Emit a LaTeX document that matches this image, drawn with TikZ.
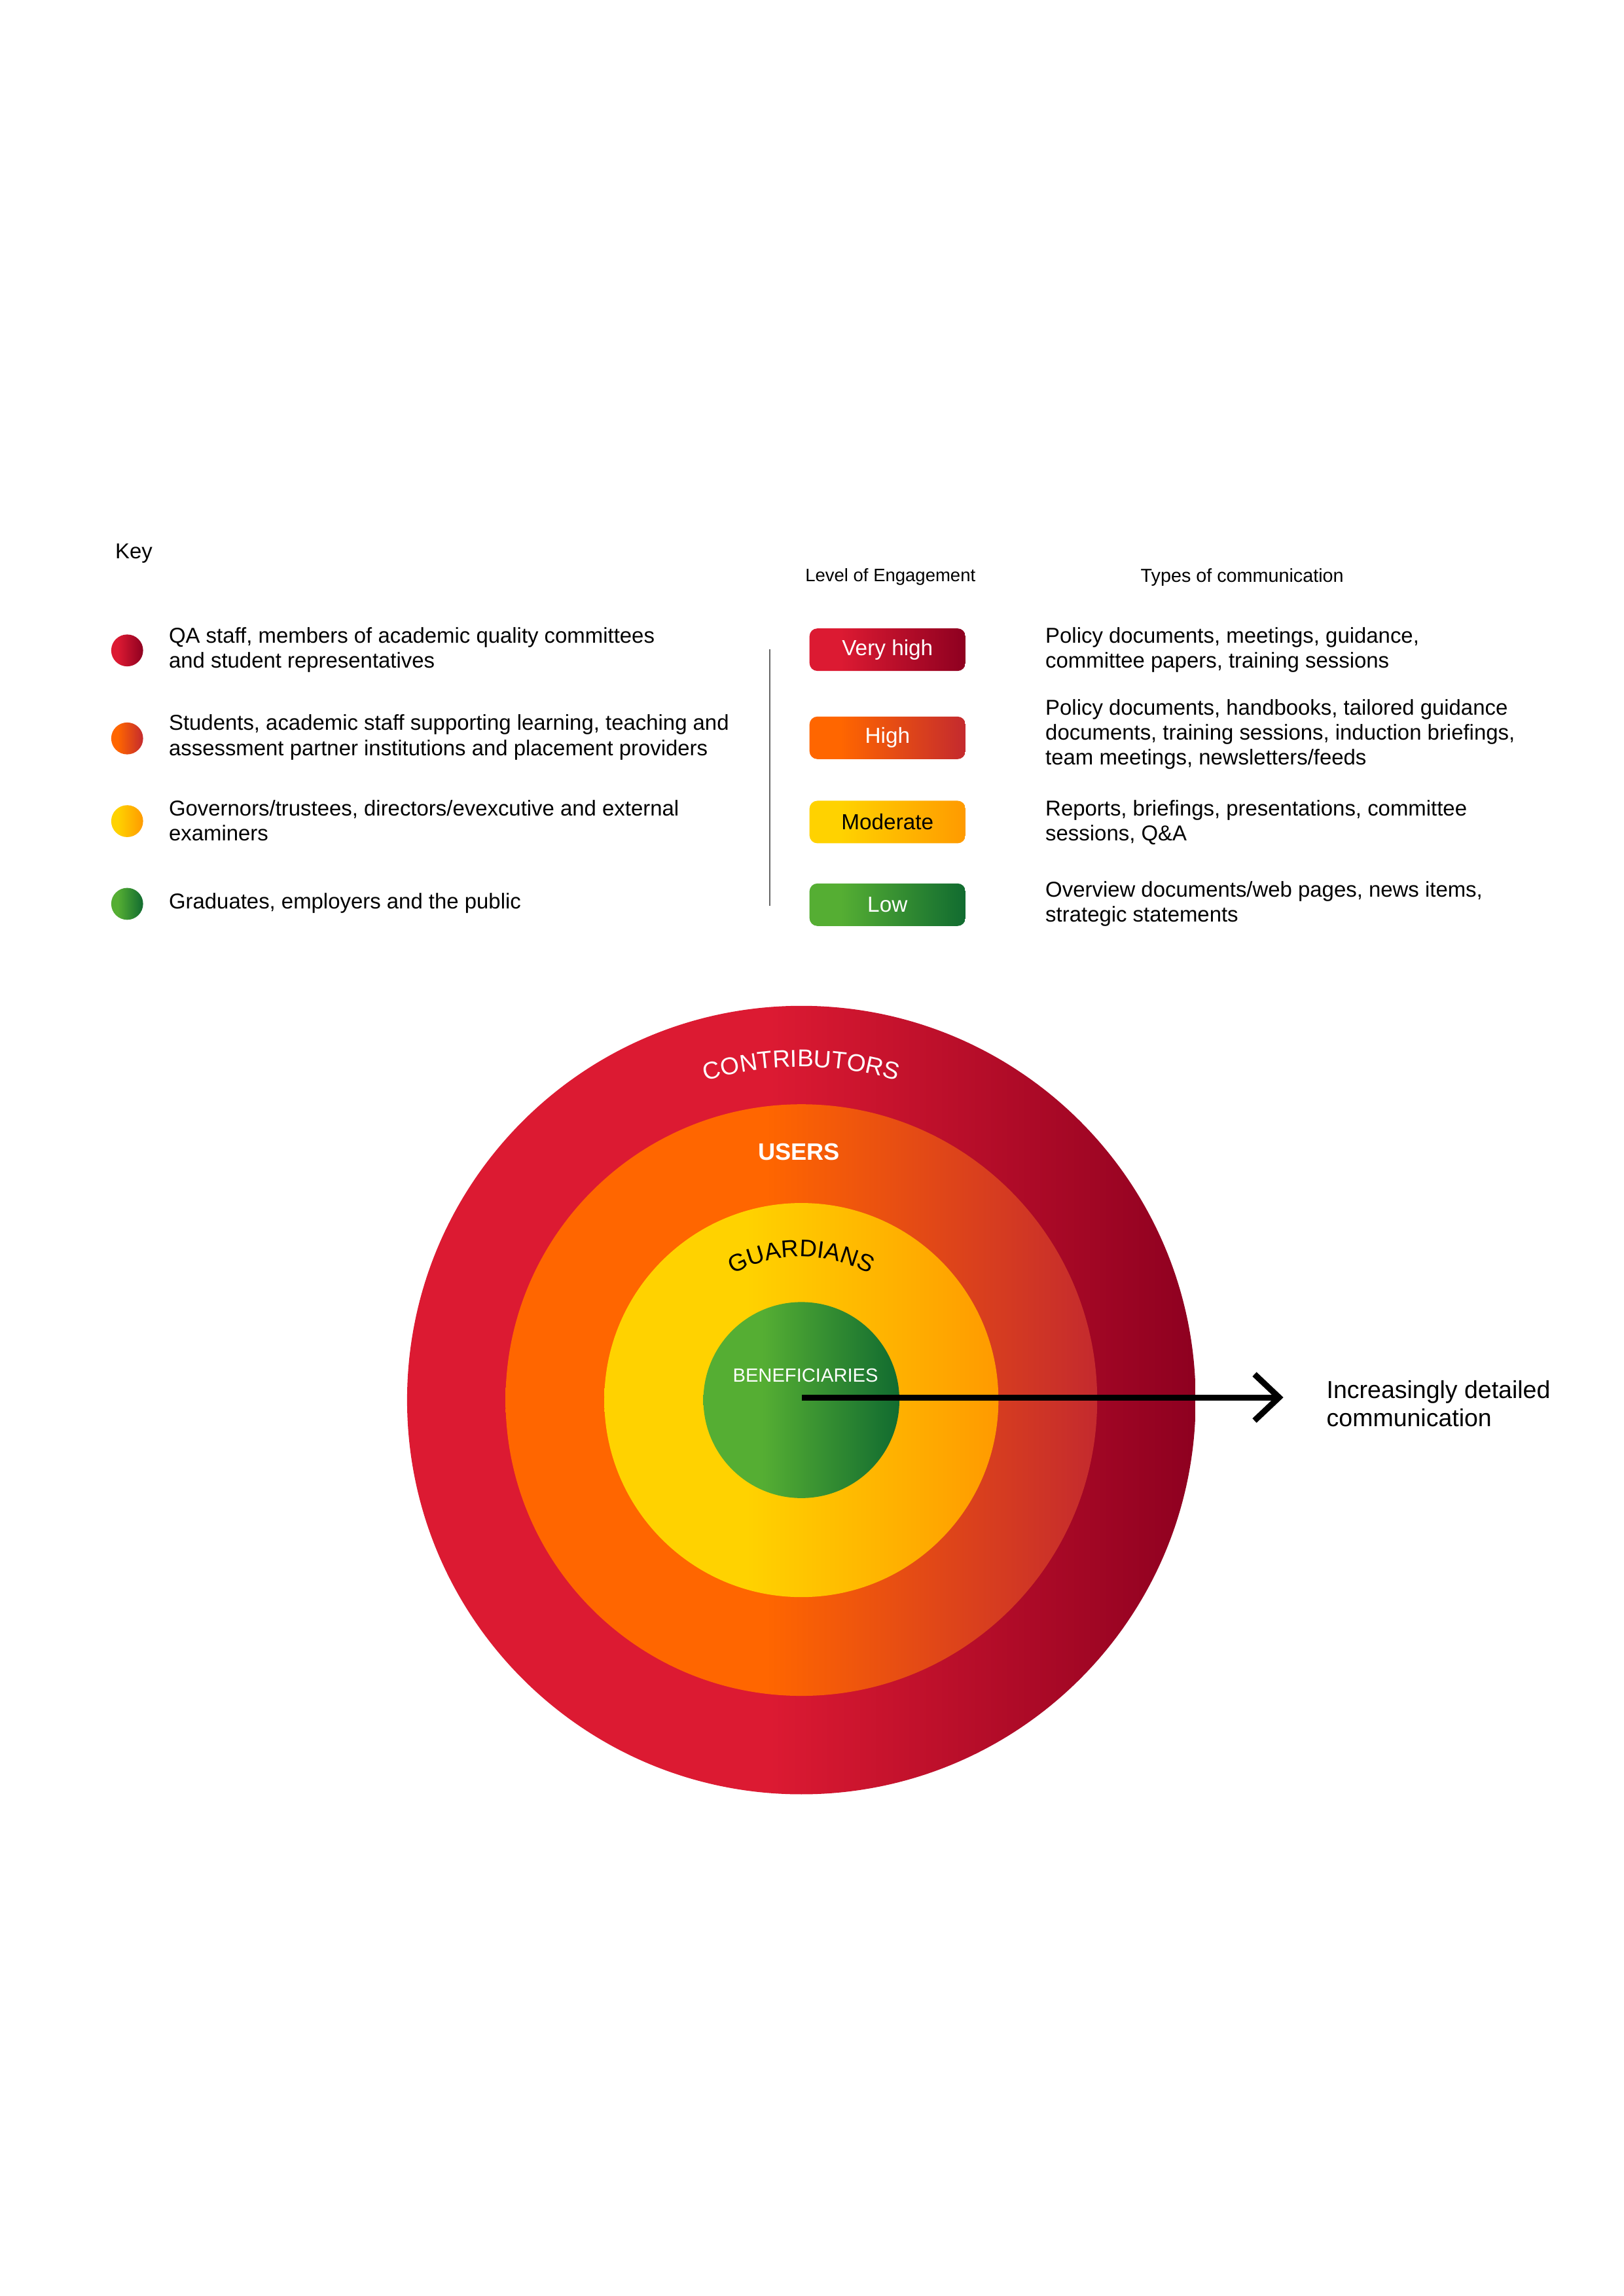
\documentclass[tikz,border=0pt]{standalone}
\usepackage{fontspec}
\setmainfont{Liberation Sans}
\usetikzlibrary{arrows.meta,decorations.text}
\definecolor{redA}{HTML}{DC1A32}
\definecolor{redB}{HTML}{8E0020}
\definecolor{orA}{HTML}{FF6600}
\definecolor{orB}{HTML}{C42A2E}
\definecolor{yeA}{HTML}{FFD200}
\definecolor{yeB}{HTML}{FF9A00}
\definecolor{grA}{HTML}{55AE33}
\definecolor{grB}{HTML}{116B30}
\definecolor{lineGray}{HTML}{666666}
\pgfdeclarehorizontalshading{redsh}{100bp}{color(0bp)=(redA); color(48bp)=(redA); color(75bp)=(redB); color(100bp)=(redB)}
\pgfdeclarehorizontalshading{orsh}{100bp}{color(0bp)=(orA); color(47bp)=(orA); color(75bp)=(orB); color(100bp)=(orB)}
\pgfdeclarehorizontalshading{yesh}{100bp}{color(0bp)=(yeA); color(43bp)=(yeA); color(75bp)=(yeB); color(100bp)=(yeB)}
\pgfdeclarehorizontalshading{grsh}{100bp}{color(0bp)=(grA); color(40bp)=(grA); color(75bp)=(grB); color(100bp)=(grB)}
\pgfdeclarehorizontalshading{reddot}{100bp}{color(0bp)=(redA); color(35bp)=(redA); color(75bp)=(redB); color(100bp)=(redB)}
\pgfdeclarehorizontalshading{ordot}{100bp}{color(0bp)=(orA); color(35bp)=(orA); color(75bp)=(orB); color(100bp)=(orB)}
\pgfdeclarehorizontalshading{yedot}{100bp}{color(0bp)=(yeA); color(35bp)=(yeA); color(75bp)=(yeB); color(100bp)=(yeB)}
\pgfdeclarehorizontalshading{grdot}{100bp}{color(0bp)=(grA); color(35bp)=(grA); color(75bp)=(grB); color(100bp)=(grB)}
\begin{document}
\begin{tikzpicture}[x=0.5397pt,y=0.5397pt,
  keytext/.style={anchor=west, align=left, inner sep=0pt, font=\fontsize{7.9}{9.2}\selectfont, text=black},
  hdr/.style={inner sep=0pt, font=\fontsize{6.6}{8}\selectfont, text=black},
  pill/.style={rounded corners=2.9pt, minimum width=57.2pt, minimum height=15.6pt, inner sep=0pt, font=\fontsize{8}{9}\selectfont},
  keydot/.style={circle, minimum size=11.7pt, inner sep=0pt},
  ringlabel/.style={inner sep=0pt},
]
\useasboundingbox[fill=white] (0,0) rectangle (1103,1560.2);

% ---------- key ----------
\node[keytext] (key) at (78,1184) {Key};
\node[hdr] (hlevel) at (605,1168) {Level of Engagement};
\node[hdr, font=\fontsize{6.9}{8}\selectfont] (htypes) at (844,1168) {Types of communication};

\node[keydot, shading=reddot] (d1) at (86.4,1118.2) {};
\node[keydot, shading=ordot]  (d2) at (86.4,1058.4) {};
\node[keydot, shading=yedot]  (d3) at (86.4,1002.2) {};
\node[keydot, shading=grdot]  (d4) at (86.4,946) {};

\node[keytext] (k1) at (114.4,1118.7) {QA staff, members of academic quality committees\\and student representatives};
\node[keytext] (k2) at (114.4,1059.2) {Students, academic staff supporting learning, teaching and\\assessment partner institutions and placement providers};
\node[keytext] (k3) at (114.4,1002.7) {Governors/trustees, directors/evexcutive and external\\examiners};
\node[keytext] (k4) at (114.4,946.5) {Graduates, employers and the public};

\coordinate (vtop) at (523,1119);
\coordinate (vbot) at (523,944.5);
\draw[lineGray, line width=0.6pt] (vtop) -- (vbot);

\node[pill, shading=reddot, text=white] (p1) at (603,1118.7) {Very high};
\node[pill, shading=ordot, text=white]  (p2) at (603,1058.8) {High};
\node[pill, shading=yedot, text=black]  (p3) at (603,1001.6) {Moderate};
\node[pill, shading=grdot, text=white]  (p4) at (603,945.4) {Low};

\node[keytext] (t1) at (710,1118.7) {Policy documents, meetings, guidance,\\committee papers, training sessions};
\node[keytext] (t2) at (710,1061.2) {Policy documents, handbooks, tailored guidance\\documents, training sessions, induction briefings,\\team meetings, newsletters/feeds};
\node[keytext] (t3) at (710,1001.2) {Reports, briefings, presentations, committee\\sessions, Q\&A};
\node[keytext] (t4) at (710,946) {Overview documents/web pages, news items,\\strategic statements};

% ---------- circles ----------
\coordinate (C) at (544.5,608.8);
\shade[shading=redsh] (C) circle[radius=267.9];
\shade[shading=orsh]  (C) circle[radius=201];
\shade[shading=yesh]  (C) circle[radius=133.9];
\shade[shading=grsh]  (C) circle[radius=66.6];

\path[decorate, decoration={text along path, text align=center,
  text={|\fontsize{8.9}{10}\selectfont\color{white}|CONTRIBUTORS}}]
  (C) ++(135:226.5) arc[start angle=135, end angle=45, radius=226.5];
\path[decorate, decoration={text along path, text align=center,
  text={|\fontsize{8.8}{10}\selectfont\color{black}|GUARDIANS}}]
  (C) ++(155:97.5) arc[start angle=155, end angle=25, radius=97.5];
\node[ringlabel, text=white, font=\fontsize{8.7}{10}\selectfont\bfseries] (users) at (542.8,777.4) {USERS};
\node[ringlabel, text=white, font=\fontsize{7}{8}\selectfont] (benef) at (547.3,625.7) {BENEFICIARIES};

% ---------- arrow ----------
\coordinate (arrS) at (545,610.6);
\coordinate (arrE) at (872,610.6);
\draw[line width=2.2pt, -{Straight Barb[length=9pt, width=17pt]}] (arrS) -- (arrE);
\node[keytext, font=\fontsize{9}{10.3}\selectfont] (arrtext) at (901,606.2) {Increasingly detailed\\communication};
\end{tikzpicture}
\end{document}
